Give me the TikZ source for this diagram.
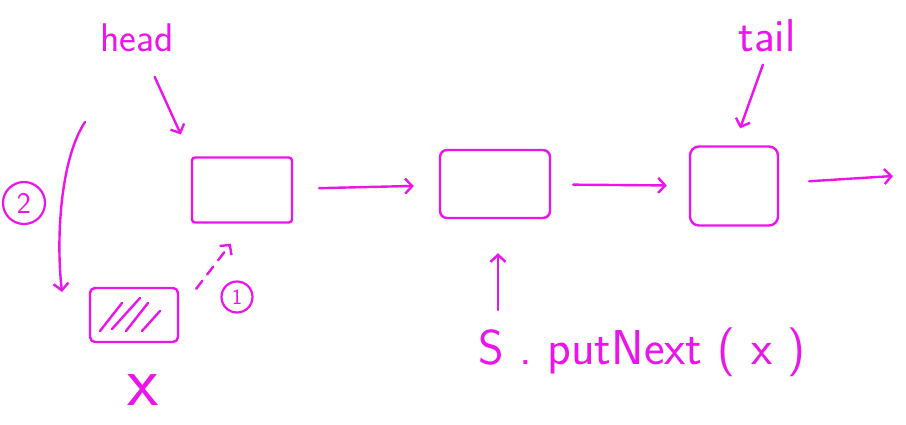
\documentclass[tikz,border=0pt]{standalone}
\usepackage{fontspec}
\usetikzlibrary{arrows.meta}
\definecolor{mag}{RGB}{235,20,235}
\begin{document}
\begin{tikzpicture}[x=1pt,y=-1pt,
  ink/.style={draw=mag, line width=2.4pt, line cap=round, line join=round},
  box/.style={ink, rectangle, rounded corners=3pt, inner sep=0pt},
  arr/.style={ink, -{Straight Barb[length=7pt,width=15pt]}},
  lbl/.style={text=mag, font=\sffamily\fontsize{40}{42}\selectfont, inner sep=1pt},
  circ/.style={ink, line width=2.2pt, circle, text=mag, inner sep=0pt}]
\useasboundingbox (0,0) rectangle (906,425);
% nodes
\node[box, minimum width=100pt, minimum height=65pt] (n1) at (242,190) {};
\node[box, rounded corners=7pt, minimum width=110pt, minimum height=68pt] (n2) at (495,184) {};
\node[box, rounded corners=9pt, minimum width=88pt, minimum height=79pt] (n3) at (734,186) {};
\node[box, rounded corners=5pt, minimum width=88pt, minimum height=54pt] (nx) at (134,315) {};
\node[lbl] (head) at (137,38) {head};
\node[lbl, font=\sffamily\fontsize{46}{48}\selectfont] (tail) at (767,36) {tail};
\node[lbl, font=\sffamily\fontsize{49}{51}\selectfont] (call) at (642,352) {S . putNext ( x )};
\node[lbl, font=\sffamily\fontsize{72}{74}\selectfont] (xl) at (143,390) {x};
\node[circ, font=\sffamily\fontsize{30}{30}\selectfont, minimum size=42pt] (c2) at (24,203) {2};
\node[circ, font=\sffamily\fontsize{22}{22}\selectfont, minimum size=31pt] (c1) at (237,297) {1};
\coordinate (tailend) at (893,176);
\coordinate (upstart) at (498,310);
\coordinate (c2a) at (85,122);
\coordinate (c2b) at (62,292);
% hatching inside new node
\draw[ink] ([xshift=-34pt,yshift=-16pt]nx.center) -- ([xshift=-12pt,yshift=12pt]nx.center);
\draw[ink] ([xshift=-22pt,yshift=-14pt]nx.center) -- ([xshift=6pt,yshift=17pt]nx.center);
\draw[ink] ([xshift=-8pt,yshift=-16pt]nx.center) -- ([xshift=14pt,yshift=12pt]nx.center);
\draw[ink] ([xshift=8pt,yshift=-16pt]nx.center) -- ([xshift=26pt,yshift=4pt]nx.center);
% connectors
\draw[arr, shorten <=26pt, shorten >=24pt] (head) -- (n1.north west);
\draw[arr, shorten <=26pt, shorten >=25pt] (n1) -- (n2);
\draw[arr, shorten <=22pt, shorten >=22pt] (n2) -- (n3);
\draw[arr, shorten <=30pt] (n3) -- (tailend);
\draw[arr, shorten <=12pt, shorten >=18pt] (tail.south) -- (n3.north);
\draw[arr] (upstart) -- ([yshift=-34pt]n2.south -| upstart);
\draw[arr] (c2a) .. controls (60,160) and (56,240) .. (c2b);
\draw[arr, dashed, dash pattern=on 10pt off 8pt] ([xshift=17pt,yshift=-2pt]nx.north east) -- ([xshift=40pt,yshift=-20pt]n1.south west);
\end{tikzpicture}
\end{document}
